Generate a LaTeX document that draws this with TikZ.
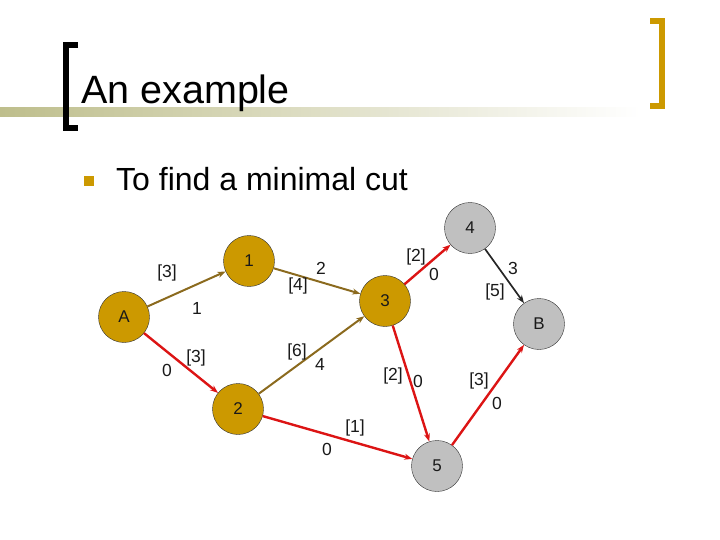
\documentclass[tikz,border=0pt]{standalone}
\usepackage{fontspec}
\setmainfont{Liberation Sans}
\usepackage{tikz}
\usetikzlibrary{arrows.meta, shapes.geometric}
\definecolor{slidegold}{RGB}{204,153,0}
\definecolor{slideolive}{RGB}{190,190,140}
\definecolor{nodegrey}{RGB}{192,192,192}
\definecolor{flowbrown}{RGB}{139,106,30}
\definecolor{cutred}{RGB}{220,20,20}

\begin{document}
\begin{tikzpicture}[
  x=1pt, y=-1pt,
  goldnode/.style = {circle, fill=slidegold, draw=black!80, thin, minimum size=51pt,
                  inner sep=0pt, font=\fontsize{17}{20}\selectfont, text=black!90},
  greynode/.style = {goldnode, fill=nodegrey},
  lbl/.style     = {inner sep=0pt, font=\fontsize{17.5}{20}\selectfont, text=black!90},
  brownarr/.style = {-{Stealth[length=8pt, width=6pt]}, line width=2pt, color=flowbrown},
  redarr/.style   = {-{Stealth[length=8pt, width=6pt]}, line width=2.4pt, color=cutred},
  blackarr/.style = {-{Stealth[length=8pt, width=6pt]}, line width=1.7pt, color=black!85},
]
\useasboundingbox (0,0) rectangle (720,540);

%% Title bar
\shade[left color=slideolive, right color=white] (0,108) rectangle (640,117);
\draw[line width=6pt, miter limit=10] (78,45) -- (66,45) -- (66,128) -- (78,128);
\draw[slidegold, line width=6pt, miter limit=10] (650,21) -- (662,21) -- (662,106) -- (650,106);
\node[anchor=base west, inner sep=0pt, font=\fontsize{39.5}{44}\selectfont] (title) at (81,104) {An example};

%% Bullet
\node[fill=slidegold, minimum size=10pt, inner sep=0pt] (bul) at (89,181) {};
\node[anchor=base west, inner sep=0pt, font=\fontsize{32}{38}\selectfont] (item) at (116,191) {To find a minimal cut};

%% Network nodes
\node[goldnode] (A) at (124,317) {A};
\node[goldnode] (1) at (249,261) {1};
\node[goldnode] (2) at (238,409) {2};
\node[goldnode] (3) at (385,301) {3};
\node[greynode] (4) at (470,228) {4};
\node[greynode] (5) at (437,466) {5};
\node[greynode] (B) at (539,324) {B};

%% Arcs
\foreach \s/\t in {A/1, 1/3, 2/3} {
  \draw[brownarr] (\s) -- (\t);
}
\foreach \s/\t in {A/2, 3/4, 3/5, 2/5, 5/B} {
  \draw[redarr] (\s) -- (\t);
}
\draw[blackarr] (4) -- (B);

%% Capacities [c] and flows
\foreach \n/\x/\y/\t in {cA1/167/273/{[3]}, fA1/197/308/1,
                         cA2/196/358/{[3]}, fA2/167/370/0,
                         c13/298/286/{[4]}, f13/321/268/2,
                         c23/297/352/{[6]}, f23/320/364/4,
                         c34/416/257/{[2]}, f34/434/274/0,
                         c4B/495/292/{[5]}, f4B/513/268/3,
                         c35/393/376/{[2]}, f35/418/381/0,
                         c25/355/428/{[1]}, f25/327/449/0,
                         c5B/479/381/{[3]}, f5B/497/403/0} {
  \node[lbl] (\n) at (\x,\y) {\t};
}

\end{tikzpicture}
\end{document}
